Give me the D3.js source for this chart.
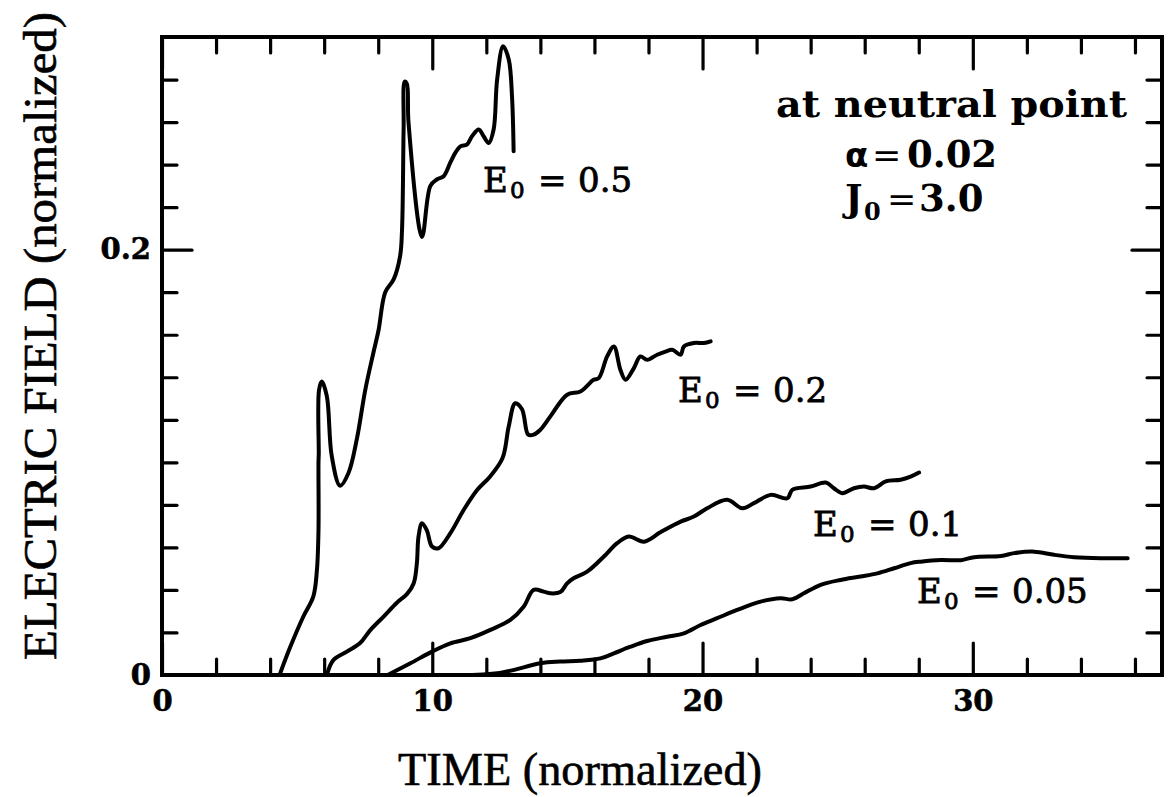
<!DOCTYPE html>
<html lang="en">
<head>
<meta charset="UTF-8" />
<title>Electric field at neutral point</title>
<script src="https://d3js.org/d3.v7.min.js"></script>
<style>
  body { margin: 0; background: #fff; }
  svg { display: block; background: #fff; }
  .curve { fill: none; stroke: #000; stroke-width: 4; stroke-linejoin: round; stroke-linecap: round; }
  .axis path { display: none; }
  .axis line { stroke: #000; stroke-width: 3.2; stroke-linecap: round; }
  .axis text { font-family: "DejaVu Serif", serif; font-weight: bold; font-size: 29px; fill: #000;
    stroke: #000; stroke-width: 0.6; }
  .frame { fill: none; stroke: #000; stroke-width: 4; }
  .curve-label { font-family: "DejaVu Serif", serif; font-size: 34px; fill: #000; stroke: #000; stroke-width: 0.8; }
  .note { font-family: "DejaVu Serif", serif; font-weight: bold; font-size: 37px; fill: #000; }
  .title { font-family: "Liberation Serif", serif; font-size: 46px; fill: #000; stroke: #000; stroke-width: 0.6; }
</style>
</head>
<body>
<svg id="chart" width="1168" height="797"></svg>
<script>
// ---- data: [time, field] ----
const timeTicks = [0, 10, 20, 30];
const fieldTicks = [0, 0.2];
const fieldTickLabels = ["0", "0.2"];

const curveE05 = [
  [4.35, 0], [4.74, 0.013], [5.23, 0.0275], [5.6, 0.037], [5.73, 0.049], [5.79, 0.068],
  [5.79, 0.1], [5.8, 0.104], [5.81, 0.134], [5.91, 0.138], [6.1, 0.131], [6.28, 0.103],
  [6.59, 0.089], [6.9, 0.095], [7.21, 0.111], [7.52, 0.134], [7.83, 0.152], [8.01, 0.162],
  [8.26, 0.18], [8.57, 0.186], [8.81, 0.197], [8.88, 0.209], [8.94, 0.257], [8.98, 0.279],
  [9.06, 0.278], [9.12, 0.26], [9.62, 0.206], [9.93, 0.23], [10.17, 0.233], [10.42, 0.2345],
  [10.67, 0.241], [10.85, 0.2455], [11.04, 0.2486], [11.28, 0.2494], [11.47, 0.2533],
  [11.72, 0.2565], [11.9, 0.2533], [12.09, 0.2502], [12.27, 0.2565], [12.4, 0.28],
  [12.62, 0.2957], [12.83, 0.2894], [12.95, 0.2721], [13.01, 0.2463]
];

const curveE02 = [
  [6.1, 0], [6.34, 0.007], [6.84, 0.011], [7.33, 0.015], [7.7, 0.021], [8.2, 0.0275],
  [8.69, 0.034], [9.06, 0.038], [9.31, 0.043], [9.43, 0.0525], [9.49, 0.065], [9.62, 0.0714],
  [9.8, 0.068], [9.99, 0.0604], [10.23, 0.0596], [10.67, 0.0667], [11.16, 0.0776],
  [11.66, 0.087], [12.15, 0.0935], [12.6, 0.102], [12.83, 0.117], [13.07, 0.1278],
  [13.32, 0.125], [13.55, 0.113], [13.75, 0.113], [14.0, 0.1153], [14.37, 0.1216],
  [14.99, 0.1318], [15.48, 0.1333], [15.97, 0.1388], [16.16, 0.1396], [16.47, 0.1498],
  [16.72, 0.1545], [16.96, 0.1435], [17.15, 0.1388], [17.46, 0.1443], [17.7, 0.1498],
  [17.95, 0.1482], [18.32, 0.1506], [18.63, 0.1521], [18.88, 0.1529], [19.19, 0.1506],
  [19.31, 0.1545], [19.68, 0.1561], [20.05, 0.1561], [20.3, 0.1569]
];

const curveE01 = [
  [8.35, 0], [9.19, 0.0055], [9.99, 0.011], [10.67, 0.0149], [11.41, 0.0173], [12.15, 0.0212],
  [12.89, 0.0259], [13.38, 0.0321], [13.75, 0.04], [14.12, 0.0392], [14.37, 0.0384],
  [14.74, 0.039], [14.99, 0.0431], [15.23, 0.0455], [15.73, 0.0486], [16.35, 0.0557],
  [16.84, 0.062], [17.27, 0.0651], [17.83, 0.0627], [18.44, 0.0671], [19.19, 0.0721],
  [19.68, 0.0745], [20.17, 0.0784], [20.91, 0.0824], [21.47, 0.0784], [21.9, 0.0808],
  [22.52, 0.0847], [23.14, 0.0831], [23.32, 0.0871], [24.0, 0.0886], [24.56, 0.0905],
  [24.86, 0.0878], [25.17, 0.0855], [25.6, 0.0878], [25.97, 0.0886], [26.35, 0.0878],
  [26.78, 0.091], [27.33, 0.0918], [27.7, 0.0933], [28.01, 0.0952]
];

const curveE005 = [
  [11.0, 0], [12.5, 0.001], [14.0, 0.0055], [14.74, 0.0063], [15.48, 0.0067], [16.22, 0.0078],
  [16.72, 0.0102], [17.33, 0.0133], [17.95, 0.016], [18.69, 0.018], [19.31, 0.0196],
  [19.93, 0.0235], [20.54, 0.0267], [21.28, 0.0306], [22.15, 0.0345], [22.89, 0.0361],
  [23.32, 0.0356], [23.75, 0.0384], [24.37, 0.0424], [25.11, 0.0447], [25.85, 0.0463],
  [26.47, 0.0478], [27.09, 0.0502], [27.7, 0.0526], [28.07, 0.0533], [28.81, 0.0541],
  [29.56, 0.054], [30.05, 0.0554], [31.04, 0.056], [31.53, 0.0573], [32.27, 0.058],
  [33.01, 0.0565], [33.75, 0.0554], [34.74, 0.0549], [35.73, 0.0549]
];

const curveValues = ["0.5", "0.2", "0.1", "0.05"];

// ---- layout ----
const svg = d3.select("#chart");
const plotLeft = 162, plotRight = 1162, plotTop = 37, plotBottom = 675;

const x = d3.scaleLinear().domain([0, 37]).range([plotLeft, plotRight]);
const y = d3.scaleLinear().domain([0, 0.3]).range([plotBottom, plotTop]);

const minorX = d3.range(2, 37, 2).filter(d => d % 10 !== 0);
const minorY = d3.range(1, 15).map(i => i * 0.02).filter(d => Math.abs(d - 0.2) > 1e-9);

// minor ticks, all pointing inward
svg.append("g").attr("class", "axis").attr("transform", `translate(0,${plotBottom})`)
  .call(d3.axisBottom(x).tickValues(minorX).tickSize(-16).tickFormat(""));
svg.append("g").attr("class", "axis").attr("transform", `translate(0,${plotTop})`)
  .call(d3.axisTop(x).tickValues(minorX).tickSize(-16).tickFormat(""));
svg.append("g").attr("class", "axis").attr("transform", `translate(${plotLeft},0)`)
  .call(d3.axisLeft(y).tickValues(minorY).tickSize(-15).tickFormat(""));
svg.append("g").attr("class", "axis").attr("transform", `translate(${plotRight},0)`)
  .call(d3.axisRight(y).tickValues(minorY).tickSize(-15).tickFormat(""));

// major ticks
svg.append("g").attr("class", "axis").attr("transform", `translate(0,${plotBottom})`)
  .call(d3.axisBottom(x).tickValues(timeTicks).tickSize(-32).tickPadding(15).tickFormat(d3.format("d")));
svg.append("g").attr("class", "axis").attr("transform", `translate(0,${plotTop})`)
  .call(d3.axisTop(x).tickValues(timeTicks).tickSize(-32).tickFormat(""));
svg.append("g").attr("class", "axis").attr("transform", `translate(${plotLeft},0)`)
  .call(d3.axisLeft(y).tickValues(fieldTicks).tickSize(-30).tickPadding(11)
    .tickFormat((d, i) => fieldTickLabels[i]));
svg.append("g").attr("class", "axis").attr("transform", `translate(${plotRight},0)`)
  .call(d3.axisRight(y).tickValues(fieldTicks).tickSize(-30).tickFormat(""));

svg.append("rect").attr("class", "frame")
  .attr("x", plotLeft).attr("y", plotTop)
  .attr("width", plotRight - plotLeft).attr("height", plotBottom - plotTop);

// curves
const line = d3.line()
  .x(d => x(d[0]))
  .y(d => y(d[1]))
  .curve(d3.curveCatmullRom.alpha(0.5));

const curves = [curveE05, curveE02, curveE01, curveE005];
svg.append("g").selectAll("path")
  .data(curves)
  .join("path")
  .attr("class", "curve")
  .attr("d", line);

// curve labels E0 = ...
const labelPos = [[483, 192], [678, 402], [813, 536], [917, 603]];
curveValues.forEach((v, i) => {
  const [lx, ly] = labelPos[i];
  const t = svg.append("text").attr("class", "curve-label").attr("x", lx).attr("y", ly);
  t.append("tspan").text("E");
  t.append("tspan").attr("x", lx + 27).attr("dy", 6).attr("font-size", 23).text("0");
  t.append("tspan").attr("x", lx + 55).attr("dy", -6).text("=");
  t.append("tspan").attr("x", lx + 95).text(v);
});

// parameters box
svg.append("text").attr("class", "note")
  .attr("x", 776).attr("y", 117)
  .attr("textLength", 351).attr("lengthAdjust", "spacingAndGlyphs")
  .text("at neutral point");

const alphaLine = svg.append("text").attr("class", "note").attr("x", 845).attr("y", 167);
alphaLine.append("tspan").attr("font-family", "DejaVu Sans").attr("font-size", 34).text("α");
alphaLine.append("tspan").attr("x", 872).attr("font-weight", "normal").attr("font-size", 35).text("=");
alphaLine.append("tspan").attr("x", 907).text("0.02");

const jLine = svg.append("text").attr("class", "note").attr("x", 845).attr("y", 211);
jLine.append("tspan").text("J");
jLine.append("tspan").attr("x", 864).attr("dy", 9).attr("font-size", 24).text("0");
jLine.append("tspan").attr("x", 887).attr("dy", -9).attr("font-weight", "normal").attr("font-size", 35).text("=");
jLine.append("tspan").attr("x", 919).text("3.0");

// axis titles
svg.append("text").attr("class", "title")
  .attr("x", 580).attr("y", 785)
  .attr("text-anchor", "middle")
  .attr("textLength", 364).attr("lengthAdjust", "spacingAndGlyphs")
  .text("TIME (normalized)");

svg.append("text").attr("class", "title")
  .attr("transform", "translate(56,336) rotate(-90)")
  .attr("text-anchor", "middle")
  .attr("textLength", 648).attr("lengthAdjust", "spacingAndGlyphs")
  .text("ELECTRIC FIELD (normalized)");
</script>
</body>
</html>
